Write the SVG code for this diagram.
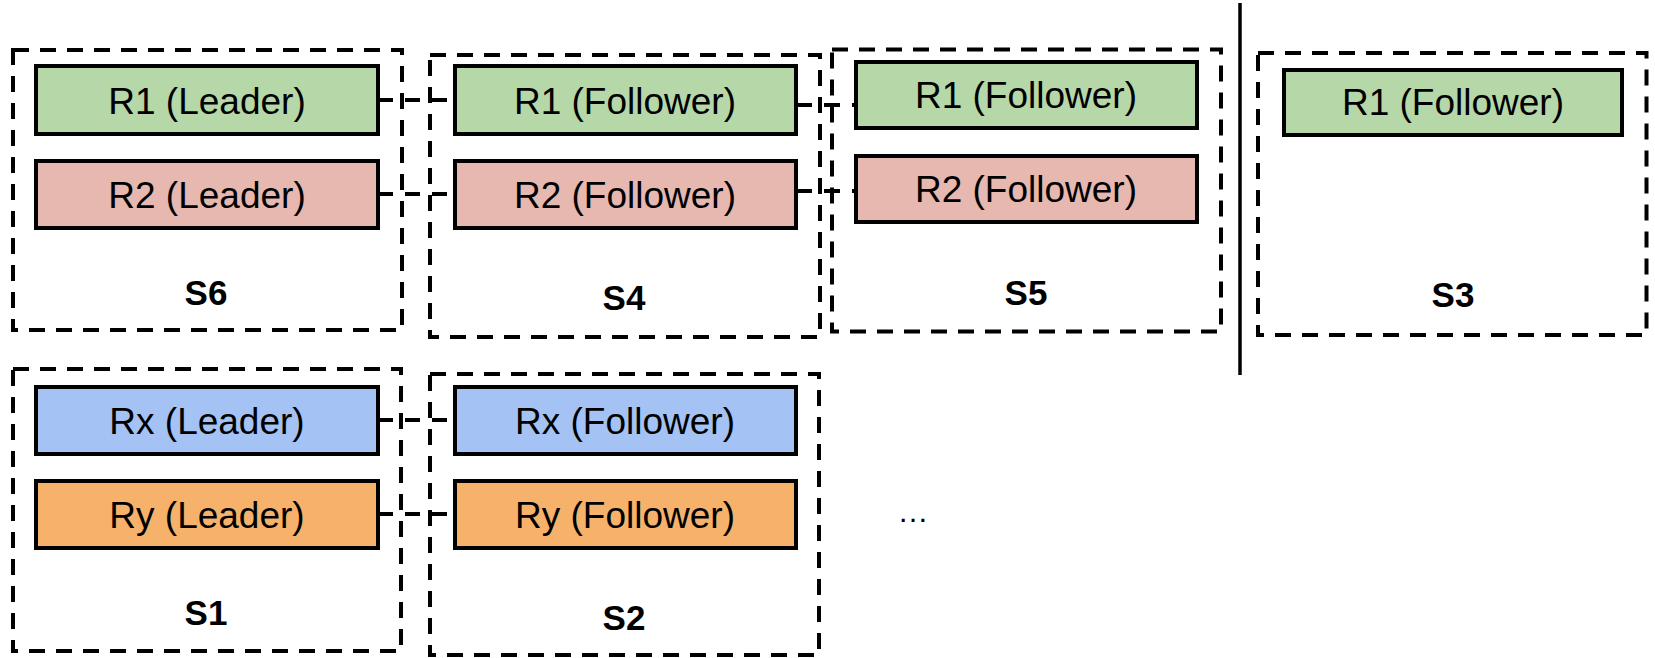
<svg xmlns="http://www.w3.org/2000/svg" width="1655" height="658" viewBox="0 0 1655 658">
<style>
.server{fill:none;stroke:#000;stroke-width:4;stroke-dasharray:16 11}
.rep{stroke:#000;stroke-width:4}
.g{fill:#b6d7a8}.p{fill:#e6b8af}.b{fill:#a4c2f4}.o{fill:#f6b26b}
.rt{font-family:"Liberation Sans",Arial,sans-serif;font-size:37px;text-anchor:middle;fill:#000}
.st{font-family:"Liberation Sans",Arial,sans-serif;font-size:35px;font-weight:bold;text-anchor:middle;fill:#000}
.conn{fill:none;stroke:#000;stroke-width:4}
.c1{stroke-dasharray:15 12}
.c2{stroke-dasharray:16 12}
</style>
<rect width="1655" height="658" fill="#fff"/>
<g id="connectors">
<line class="conn c1" x1="378" y1="100" x2="455" y2="100"/>
<line class="conn c1" x1="378" y1="194" x2="455" y2="194"/>
<line class="conn c2" x1="796" y1="105" x2="856" y2="105"/>
<line class="conn c2" x1="796" y1="191" x2="856" y2="191"/>
<line class="conn c1" x1="378" y1="420" x2="455" y2="420"/>
<line class="conn c1" x1="378" y1="514" x2="455" y2="514"/>
</g>
<line id="divider" x1="1240" y1="3" x2="1240" y2="375" stroke="#000" stroke-width="3.5"/>
<g id="S6">
<rect class="server" x="13" y="50" width="389" height="280"/>
<rect class="rep g" x="36" y="66" width="342" height="68"/>
<text class="rt" x="207" y="114">R1 (Leader)</text>
<rect class="rep p" x="36" y="161" width="342" height="67"/>
<text class="rt" x="207" y="208">R2 (Leader)</text>
<text class="st" x="206" y="305">S6</text>
</g>
<g id="S4">
<rect class="server" x="430" y="55" width="390" height="282"/>
<rect class="rep g" x="455" y="66" width="341" height="68"/>
<text class="rt" x="625" y="114">R1 (Follower)</text>
<rect class="rep p" x="455" y="161" width="341" height="67"/>
<text class="rt" x="625" y="208">R2 (Follower)</text>
<text class="st" x="624" y="310">S4</text>
</g>
<g id="S5">
<rect class="server" x="832" y="49.5" width="389" height="282"/>
<rect class="rep g" x="856" y="62" width="341" height="66"/>
<text class="rt" x="1026" y="108">R1 (Follower)</text>
<rect class="rep p" x="856" y="156" width="341" height="66"/>
<text class="rt" x="1026" y="202">R2 (Follower)</text>
<text class="st" x="1026" y="305">S5</text>
</g>
<g id="S3">
<rect class="server" x="1258" y="53" width="388.5" height="282"/>
<rect class="rep g" x="1284" y="70" width="338" height="65"/>
<text class="rt" x="1453" y="115">R1 (Follower)</text>
<text class="st" x="1453" y="307">S3</text>
</g>
<g id="S1">
<rect class="server" x="13" y="369" width="388" height="282"/>
<rect class="rep b" x="36" y="387" width="342" height="67"/>
<text class="rt" x="207" y="434">Rx (Leader)</text>
<rect class="rep o" x="36" y="481" width="342" height="67"/>
<text class="rt" x="207" y="528">Ry (Leader)</text>
<text class="st" x="206" y="625">S1</text>
</g>
<g id="S2">
<rect class="server" x="430" y="374" width="389" height="281"/>
<rect class="rep b" x="455" y="387" width="341" height="67"/>
<text class="rt" x="625" y="434">Rx (Follower)</text>
<rect class="rep o" x="455" y="481" width="341" height="67"/>
<text class="rt" x="625" y="528">Ry (Follower)</text>
<text class="st" x="624" y="630">S2</text>
</g>
<text id="more" x="913" y="522" font-family="Liberation Sans, Arial, sans-serif" font-size="31" text-anchor="middle">…</text>
</svg>
